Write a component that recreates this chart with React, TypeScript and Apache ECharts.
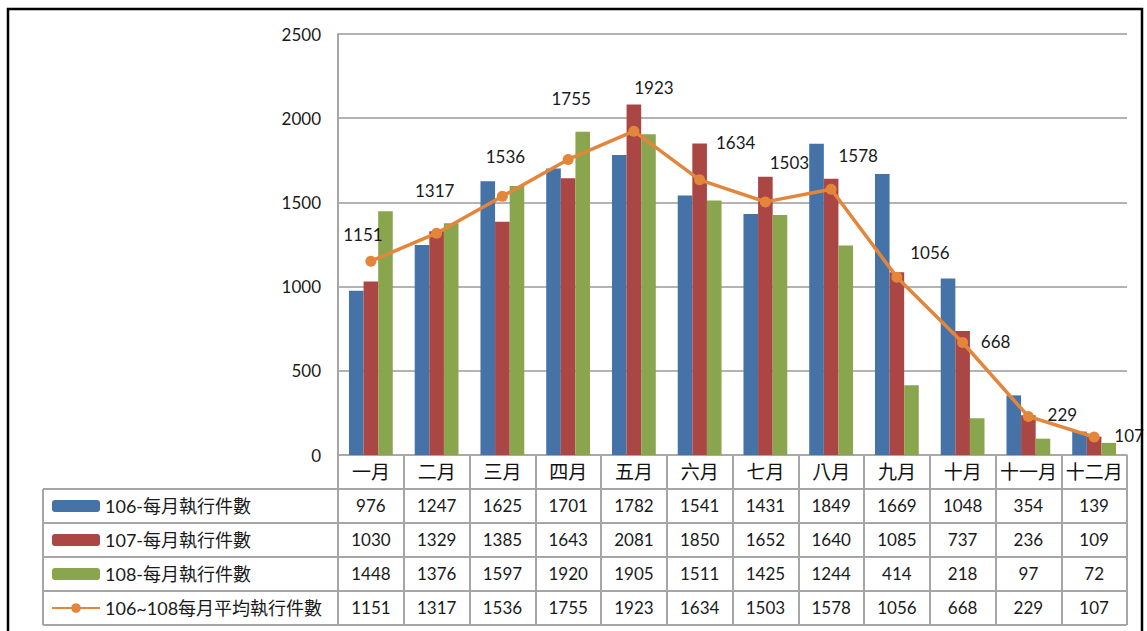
import React, { useEffect, useRef } from "react";
import * as echarts from "echarts";

const months = ["一月", "二月", "三月", "四月", "五月", "六月", "七月", "八月", "九月", "十月", "十一月", "十二月"];
const s106 = [976, 1247, 1625, 1701, 1782, 1541, 1431, 1849, 1669, 1048, 354, 139];
const s107 = [1030, 1329, 1385, 1643, 2081, 1850, 1652, 1640, 1085, 737, 236, 109];
const s108 = [1448, 1376, 1597, 1920, 1905, 1511, 1425, 1244, 414, 218, 97, 72];
const avg = [1151, 1317, 1536, 1755, 1923, 1634, 1503, 1578, 1056, 668, 229, 107];
const seriesNames = ["106-每月執行件數", "107-每月執行件數", "108-每月執行件數", "106~108每月平均執行件數"];
const yMin = 0;
const yMax = 2500;
const yStep = 500;

// label placement offsets for the average line (styling, not data)
const labelOffsets: number[][] = [
  [-8, -27], [-2, -43], [3, -40], [3, -61], [20, -44], [36, -37],
  [24, -39], [27, -34], [33, -25], [33, -1], [34, -2], [35, -1],
];

const FONT = "Lato, 'Noto Sans CJK TC', sans-serif";
const colors = ["#4572A7", "#AA4643", "#89A54E", "#E3863B"];
const TABLE_LINE = "#a6a6a6";

export default function App() {
  const ref = useRef<HTMLDivElement>(null);
  useEffect(() => {
    if (!ref.current) return;
    const chart = echarts.init(ref.current, undefined, { renderer: "svg" });

    const gridLeft = 338, gridTop = 34, gridW = 789, gridH = 421;
    const base = gridTop + gridH;
    const rowH = 34;
    const tableLeft = 43;
    const tableRight = gridLeft + gridW;

    const rows = [s106, s107, s108, avg];

    const xAxes: any[] = [
      {
        type: "category",
        gridIndex: 0,
        data: months,
        position: "bottom",
        axisLine: { show: true, lineStyle: { color: TABLE_LINE, width: 1.5 } },
        axisTick: { show: true, length: rowH, interval: 0, lineStyle: { color: TABLE_LINE, width: 2 } },
        axisLabel: { interval: 0, margin: 7, fontSize: 19, color: "#111", fontFamily: FONT },
      },
      ...rows.map((r, k) => ({
        type: "category",
        gridIndex: 0,
        data: r.map((v) => String(v)),
        position: "bottom",
        offset: rowH * (k + 1),
        axisLine: { show: false },
        axisTick: { show: true, length: rowH, interval: 0, lineStyle: { color: TABLE_LINE, width: 2 } },
        axisLabel: { interval: 0, margin: 8, fontSize: 17, color: "#1a1a1a", fontFamily: FONT },
      })),
    ];

    const graphics: any[] = [];
    for (let k = 1; k <= 5; k++) {
      const y = base + rowH * k;
      graphics.push({
        type: "line",
        shape: { x1: tableLeft, y1: y, x2: tableRight, y2: y },
        style: { stroke: TABLE_LINE, lineWidth: 2 },
        silent: true,
      });
    }
    graphics.push({
      type: "line",
      shape: { x1: tableLeft, y1: base + rowH, x2: tableLeft, y2: base + rowH * 5 },
      style: { stroke: TABLE_LINE, lineWidth: 2 },
      silent: true,
    });
    graphics.push({
      type: "rect",
      shape: { x: 8, y: 9, width: 1134, height: 660 },
      style: { fill: "none", stroke: "#000", lineWidth: 2.5 },
      silent: true,
      z: 100,
    });

    chart.setOption({
      animation: false,
      backgroundColor: "#fff",
      color: colors,
      textStyle: { fontFamily: FONT },
      grid: { left: gridLeft, top: gridTop, width: gridW, height: gridH, containLabel: false },
      legend: {
        orient: "vertical",
        left: 51,
        top: base + rowH + 6,
        padding: 0,
        itemWidth: 48,
        itemHeight: 12,
        itemGap: 12,
        selectedMode: false,
        textStyle: { fontSize: 18, lineHeight: 22, color: "#1a1a1a", fontFamily: FONT },
        data: seriesNames,
      },
      xAxis: xAxes,
      yAxis: {
        type: "value",
        min: yMin,
        max: yMax,
        interval: yStep,
        axisLine: { show: true, lineStyle: { color: TABLE_LINE, width: 2 } },
        axisTick: { show: false },
        splitLine: { show: true, lineStyle: { color: "#9a9a9a", width: 1.5 } },
        axisLabel: { margin: 17, fontSize: 17, color: "#1a1a1a", fontFamily: FONT, formatter: (v: number) => String(v) },
      },
      series: [
        { name: seriesNames[0], type: "bar", xAxisIndex: 0, data: s106, barGap: "0%", barCategoryGap: "33.4%", itemStyle: { color: colors[0] } },
        { name: seriesNames[1], type: "bar", xAxisIndex: 0, data: s107, barGap: "0%", barCategoryGap: "33.4%", itemStyle: { color: colors[1] } },
        { name: seriesNames[2], type: "bar", xAxisIndex: 0, data: s108, barGap: "0%", barCategoryGap: "33.4%", itemStyle: { color: colors[2] } },
        {
          name: seriesNames[3],
          type: "line",
          xAxisIndex: 0,
          z: 5,
          symbol: "circle",
          symbolSize: 11,
          lineStyle: { color: colors[3], width: 3.5 },
          itemStyle: { color: colors[3] },
          label: { show: true, position: "inside", fontSize: 17, color: "#1a1a1a", fontFamily: FONT },
          data: avg.map((v, i) => ({ value: v, label: { offset: labelOffsets[i] } })),
        },
      ],
      graphic: graphics,
    });
    return () => chart.dispose();
  }, []);
  return <div ref={ref} style={{ position: "fixed", left: 0, top: 0, width: 1147, height: 631 }} />;
}
